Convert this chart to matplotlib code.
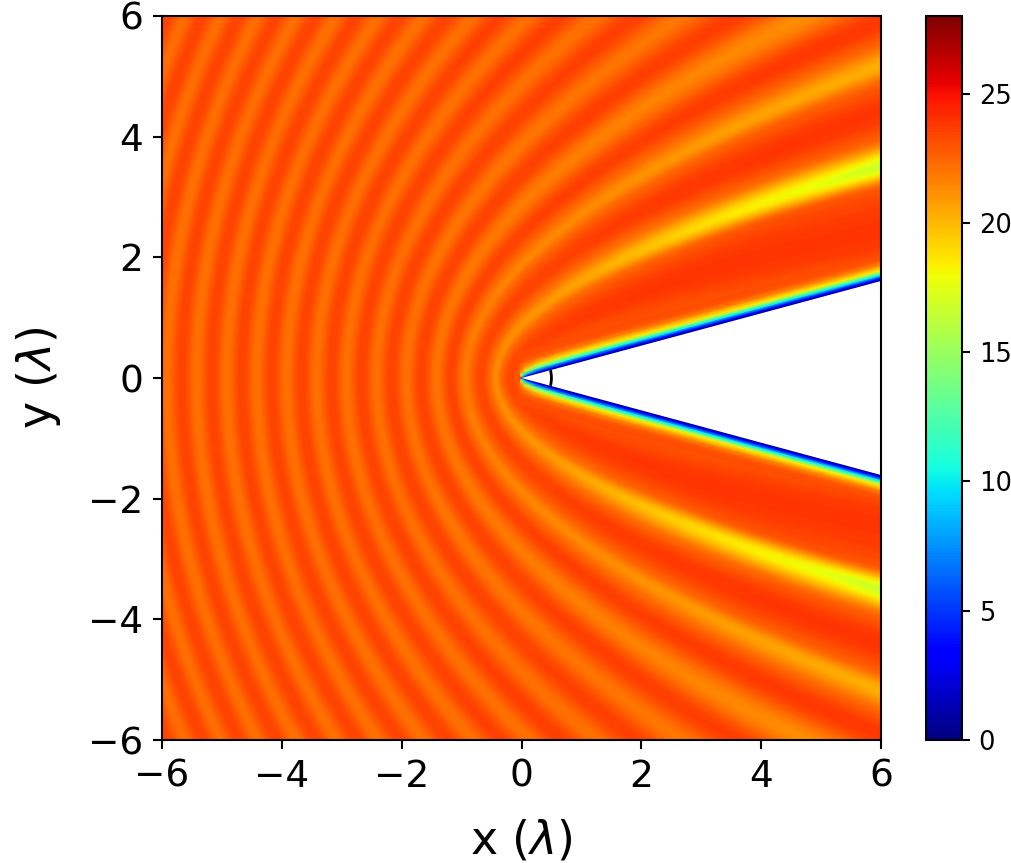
import numpy as np
import matplotlib
matplotlib.use('Agg')
import matplotlib.pyplot as plt
from matplotlib.patches import Arc, Polygon

# field, along fringes r - x = u, per angle from the x axis
angles = [15, 18, 22, 27, 30, 33, 40, 47, 55, 65, 75, 90, 105, 120, 135, 150, 165, 180]
fringe_shift = [0.08, 0.08, 0.08, 0.08, 0.08, 0.07, 0.05, 0.04, 0.03, 0.02, 0, 0, -0.01, -0.02, -0.02, -0.03, -0.03, -0.03]
u_start = [0.0, 0.2]
start_vals = [
    [23.2, 22.8], [23.2, 22.9], [23.2, 23.0], [23.2, 23.1], [23.2, 23.1], [23.2, 23.1],
    [23.2, 23.1], [23.2, 23.1], [23.2, 23.1], [23.2, 23.1], [23.2, 23.1], [23.2, 23.1],
    [23.2, 23.0], [23.2, 22.9], [23.2, 22.9], [23.2, 22.9], [23.2, 22.9], [23.2, 22.9],
]
# crest at 0.38, 1.38, ... and trough at 0.88, 1.88, ...
crests = [
    [23.8], [23.9], [23.9], [23.9, 23.9], [23.9, 23.9], [23.9, 23.9],
    [23.8, 23.9, 23.9], [23.7, 23.8, 23.8], [23.6, 23.7, 23.7, 23.7], [23.5, 23.6, 23.6, 23.6, 23.6],
    [23.5, 23.5, 23.6, 23.6, 23.6], [23.4, 23.5, 23.5, 23.5, 23.5, 23.6],
    [23.4, 23.5, 23.5, 23.5, 23.5], [23.4, 23.4, 23.5, 23.5], [23.4, 23.4, 23.5, 23.5],
    [23.4, 23.4, 23.5, 23.5], [23.4, 23.4, 23.5, 23.5], [23.4, 23.4, 23.5, 23.5],
]
troughs = [
    [16.0], [16.0], [16.0], [16.2, 20.0], [16.6, 20.0], [17.8, 20.0],
    [18.9, 20.2, 21.0], [19.8, 20.6, 21.0], [20.4, 21.0, 21.4, 21.7], [20.8, 21.3, 21.6, 21.9],
    [21.0, 21.4, 21.7, 22.0, 22.1], [21.1, 21.5, 21.8, 22.0, 22.1],
    [21.2, 21.6, 21.9, 22.0, 22.1], [21.2, 21.7, 21.9, 22.0, 22.1], [21.3, 21.7, 22.0, 22.1, 22.2],
    [21.3, 21.8, 22.0, 22.1, 22.1], [21.3, 21.8, 22.0, 22.1, 22.1], [21.3, 21.8, 22.0, 22.1, 22.1],
]
# shoulders either side of the first two troughs
shoulder_a = [23.1, 23.1, 23.1, 23.0, 23.0, 22.9, 22.6, 22.5, 22.4, 22.4, 22.4, 22.4, 22.4, 22.4, 22.4, 22.4, 22.4, 22.4]
shoulder_b = [22.7, 22.7, 22.7, 22.7, 22.7, 22.6, 22.5, 22.4, 22.4, 22.4, 22.4, 22.4, 22.4, 22.4, 22.4, 22.4, 22.4, 22.4]
shoulder_c = [22.6, 22.6, 22.6, 22.6, 22.6, 22.6, 22.6, 22.6, 22.5, 22.5, 22.5, 22.5, 22.5, 22.5, 22.5, 22.5, 22.5, 22.5]
shoulder_d = [22.5, 22.5, 22.5, 22.5, 22.5, 22.5, 22.5, 22.5, 22.5, 22.5, 22.5, 22.5, 22.5, 22.5, 22.5, 22.5, 22.5, 22.5]
n_fringes = 16

# layer along the wedge face: distance along the face, distance off it
layer_s = [0, 0.1, 0.3, 0.7, 1.5, 3, 7]
layer_d = [0, 0.024, 0.048, 0.096, 0.136, 0.176, 0.256, 0.336, 0.42]
layer_vals = [
    [0, 0, 0, 0, 0, 0, 0],
    [10, 5, 2.8, 2.2, 2, 2, 2],
    [16, 9, 6, 4.6, 4, 4, 4],
    [21.5, 16.5, 12.5, 11, 10, 10, 10],
    [22.5, 20, 16.5, 15, 14, 14, 14],
    [23, 21.5, 20, 19, 18.5, 18.5, 18.5],
    [23.2, 23, 22.5, 22, 21.5, 21.5, 21.5],
    [23.2, 23.2, 23.1, 23.0, 22.9, 22.9, 22.9],
    [23.2, 23.2, 23.2, 23.2, 23.2, 23.2, 23.2],
]

wedge_half = 15
vmin, vmax = 0, 28
ticks = [-6, -4, -2, 0, 2, 4, 6]
cticks = [0, 5, 10, 15, 20, 25]


def smooth_row(x, y, xnew):
    # monotone hermite shading between the table nodes, flat at crests and troughs
    h = np.diff(x)
    d = np.diff(y) / h
    m = np.zeros(len(y))
    for i in range(1, len(y) - 1):
        if d[i - 1] * d[i] > 0:
            m[i] = 2 * d[i - 1] * d[i] / (d[i - 1] + d[i])
    idx = np.clip(np.searchsorted(x, xnew) - 1, 0, len(h) - 1)
    t = (xnew - x[idx]) / h[idx]
    return ((2 * t**3 - 3 * t**2 + 1) * y[idx] + (t**3 - 2 * t**2 + t) * h[idx] * m[idx]
            + (-2 * t**3 + 3 * t**2) * y[idx + 1] + (t**3 - t**2) * h[idx] * m[idx + 1])


u_vals = list(u_start)
for i in range(n_fringes):
    u_vals.append(i + 0.38)
    if i < 2:
        u_vals.append(i + 0.68)
    u_vals.append(i + 0.88)
    if i < 2:
        u_vals.append(i + 1.13)
u_vals = np.array(u_vals)

field = []
for k, (st, cr, tr) in enumerate(zip(start_vals, crests, troughs)):
    row = list(st)
    for i in range(n_fringes):
        row.append(cr[min(i, len(cr) - 1)])
        if i == 0:
            row.append(shoulder_a[k])
        if i == 1:
            row.append(shoulder_c[k])
        row.append(tr[min(i, len(tr) - 1)])
        if i == 0:
            row.append(shoulder_b[k])
        if i == 1:
            row.append(shoulder_d[k])
    field.append(row)
field = np.array(field)

fu = np.linspace(u_vals[0], u_vals[-1], 1000)
rows = np.arange(len(angles))
fr = np.linspace(0, rows[-1], 400)
by_u = np.array([smooth_row(u_vals, f, fu) for f in field])
fine = np.array([np.interp(fr, rows, by_u[:, j]) for j in range(len(fu))]).T

gu, gr = np.meshgrid(fu, fr)
th = np.radians(np.interp(gr, rows, angles))
r = (gu + np.interp(gr, rows, fringe_shift) * np.minimum(gu / 0.4, 1)) / (1 - np.cos(th))
X = r * np.cos(th)
Y = r * np.sin(th)

S, D = np.meshgrid(layer_s, layer_d)
c, s = np.cos(np.radians(wedge_half)), np.sin(np.radians(wedge_half))
LX = S * c - D * s
LY = S * s + D * c

fig = plt.figure(figsize=(10.11, 8.63), dpi=100)
ax = fig.add_axes([162 / 1011, 1 - 740 / 863, 719 / 1011, 724 / 863])
for sign in [1, -1]:
    m = ax.pcolormesh(X, sign * Y, fine, shading='gouraud', cmap='jet', vmin=vmin, vmax=vmax)
    ax.pcolormesh(LX, sign * LY, layer_vals, shading='gouraud', cmap='jet', vmin=vmin, vmax=vmax)

ax.add_patch(Polygon([(0, 0), (8, 8 * s / c), (8, -8 * s / c)], fc='white', ec='none', zorder=3))
ax.add_patch(Arc((0, 0), 1, 1, theta1=-wedge_half, theta2=wedge_half, color='black', lw=2, zorder=4))

ax.set_xlim(-6, 6)
ax.set_ylim(-6, 6)
ax.set_xticks(ticks)
ax.set_yticks(ticks)
ax.tick_params(labelsize=27, length=6.5, width=1.5, pad=7)
ax.set_xlabel(r'x ($\lambda$)', fontsize=33, labelpad=17)
ax.set_ylabel(r'y ($\lambda$)', fontsize=33, labelpad=18)
for sp in ax.spines.values():
    sp.set_linewidth(1.5)
    sp.set_zorder(5)

cax = fig.add_axes([926 / 1011, 1 - 740 / 863, 36 / 1011, 724 / 863])
cb = fig.colorbar(m, cax=cax, ticks=cticks)
cb.ax.tick_params(labelsize=18.5, length=6, width=1.5, pad=6)
cb.outline.set_linewidth(1.5)

fig.savefig('out.png', dpi=100)
